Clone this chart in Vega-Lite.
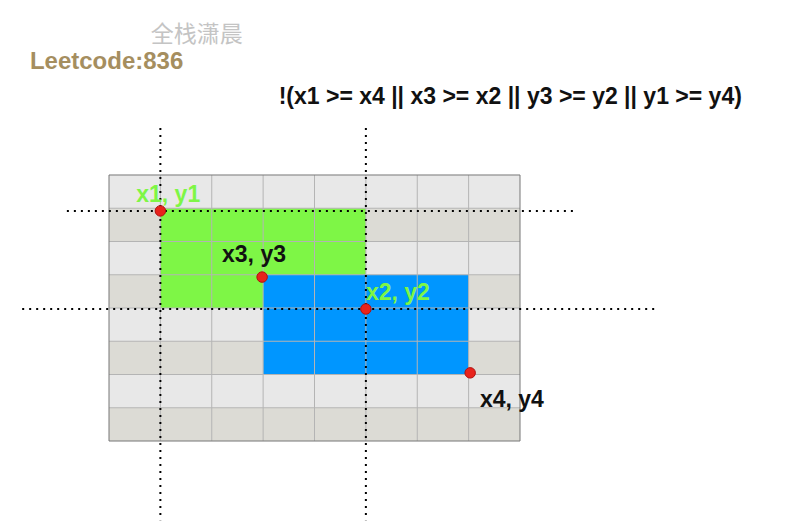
{
  "$schema": "https://vega.github.io/schema/vega-lite/v6.json",
  "width": 787,
  "height": 523,
  "autosize": {"type": "fit", "contains": "padding"},
  "padding": 0,
  "background": "white",
  "config": {"view": {"stroke": null}},
  "datasets": {
    "rows": [
      {"x": 0, "x2": 8, "y": 0, "y2": 1, "shade": "light"},
      {"x": 0, "x2": 8, "y": 1, "y2": 2, "shade": "dark"},
      {"x": 0, "x2": 8, "y": 2, "y2": 3, "shade": "light"},
      {"x": 0, "x2": 8, "y": 3, "y2": 4, "shade": "dark"},
      {"x": 0, "x2": 8, "y": 4, "y2": 5, "shade": "light"},
      {"x": 0, "x2": 8, "y": 5, "y2": 6, "shade": "dark"},
      {"x": 0, "x2": 8, "y": 6, "y2": 7, "shade": "light"},
      {"x": 0, "x2": 8, "y": 7, "y2": 8, "shade": "dark"}
    ],
    "grid": [
      {"x": 0, "x2": 8, "y": 1, "y2": 1}, {"x": 0, "x2": 8, "y": 2, "y2": 2},
      {"x": 0, "x2": 8, "y": 3, "y2": 3}, {"x": 0, "x2": 8, "y": 4, "y2": 4},
      {"x": 0, "x2": 8, "y": 5, "y2": 5}, {"x": 0, "x2": 8, "y": 6, "y2": 6},
      {"x": 0, "x2": 8, "y": 7, "y2": 7},
      {"x": 1, "x2": 1, "y": 0, "y2": 8}, {"x": 2, "x2": 2, "y": 0, "y2": 8},
      {"x": 3, "x2": 3, "y": 0, "y2": 8}, {"x": 4, "x2": 4, "y": 0, "y2": 8},
      {"x": 5, "x2": 5, "y": 0, "y2": 8}, {"x": 6, "x2": 6, "y": 0, "y2": 8},
      {"x": 7, "x2": 7, "y": 0, "y2": 8}
    ],
    "dotted": [
      {"x": 1, "x2": 1, "y": -1.41, "y2": 10.38},
      {"x": 5, "x2": 5, "y": -1.41, "y2": 10.38},
      {"x": -0.82, "x2": 9.07, "y": 1.08, "y2": 1.08},
      {"x": -1.69, "x2": 10.63, "y": 4.03, "y2": 4.03}
    ],
    "points": [
      {"x": 1, "y": 1.08},
      {"x": 2.98, "y": 3.07},
      {"x": 5, "y": 4.03},
      {"x": 7.03, "y": 5.95}
    ],
    "labels": [
      {"x": 0.53, "y": 0.6, "label": "x1, y1", "kind": "green"},
      {"x": 2.2, "y": 2.4, "label": "x3, y3", "kind": "black"},
      {"x": 5.0, "y": 3.55, "label": "x2, y2", "kind": "green"},
      {"x": 7.22, "y": 6.77, "label": "x4, y4", "kind": "black"}
    ]
  },
  "encoding": {
    "x": {"field": "x", "type": "quantitative", "axis": null,
      "scale": {"domain": [-2.1217, 13.197], "nice": false, "zero": false}},
    "y": {"field": "y", "type": "quantitative", "axis": null,
      "scale": {"domain": [-5.263, 10.466], "nice": false, "zero": false, "reverse": true}}
  },
  "layer": [
    {
      "data": {"name": "rows"},
      "transform": [{"filter": "datum.shade == 'light'"}],
      "mark": {"type": "rect", "color": "#e8e8e8"},
      "encoding": {"x2": {"field": "x2"}, "y2": {"field": "y2"}}
    },
    {
      "data": {"name": "rows"},
      "transform": [{"filter": "datum.shade == 'dark'"}],
      "mark": {"type": "rect", "color": "#dcdbd5"},
      "encoding": {"x2": {"field": "x2"}, "y2": {"field": "y2"}}
    },
    {
      "data": {"values": [{"x": 1, "x2": 5, "y": 1, "y2": 4}]},
      "mark": {"type": "rect", "color": "#7ef646"},
      "encoding": {"x2": {"field": "x2"}, "y2": {"field": "y2"}}
    },
    {
      "data": {"values": [{"x": 3, "x2": 7, "y": 3, "y2": 6}]},
      "mark": {"type": "rect", "color": "#0096ff"},
      "encoding": {"x2": {"field": "x2"}, "y2": {"field": "y2"}}
    },
    {
      "data": {"name": "grid"},
      "mark": {"type": "rule", "color": "#b4b4b4", "strokeWidth": 1},
      "encoding": {"x2": {"field": "x2"}, "y2": {"field": "y2"}}
    },
    {
      "data": {"values": [{"x": 0, "x2": 8, "y": 0, "y2": 8}]},
      "mark": {"type": "rect", "fill": null, "stroke": "#777777", "strokeWidth": 1},
      "encoding": {"x2": {"field": "x2"}, "y2": {"field": "y2"}}
    },
    {
      "data": {"name": "dotted"},
      "mark": {"type": "rule", "color": "black", "strokeWidth": 2, "strokeDash": [2, 5]},
      "encoding": {"x2": {"field": "x2"}, "y2": {"field": "y2"}}
    },
    {
      "data": {"name": "points"},
      "mark": {"type": "point", "filled": true, "shape": "circle", "size": 110, "fill": "#e8231c", "stroke": "#b01010", "strokeWidth": 1, "opacity": 1},
      "encoding": {}
    },
    {
      "data": {"name": "labels"},
      "transform": [{"filter": "datum.kind == 'green'"}],
      "mark": {"type": "text", "align": "left", "baseline": "middle", "fontSize": 23, "fontWeight": "bold", "font": "Liberation Sans", "color": "#7ef646"},
      "encoding": {"text": {"field": "label"}}
    },
    {
      "data": {"name": "labels"},
      "transform": [{"filter": "datum.kind == 'black'"}],
      "mark": {"type": "text", "align": "left", "baseline": "middle", "fontSize": 23, "fontWeight": "bold", "font": "Liberation Sans", "color": "#111111"},
      "encoding": {"text": {"field": "label"}}
    },
    {
      "data": {"values": [{"x": 1.71, "y": -4.21, "label": "全栈潇晨"}]},
      "mark": {"type": "text", "align": "center", "baseline": "middle", "fontSize": 23, "color": "#c4c4c4", "font": "Noto Sans CJK SC"},
      "encoding": {"text": {"field": "label"}}
    },
    {
      "data": {"values": [{"x": -1.54, "y": -3.4, "label": "Leetcode:836"}]},
      "mark": {"type": "text", "align": "left", "baseline": "middle", "fontSize": 24, "fontWeight": "bold", "color": "#a58e5f", "font": "Liberation Sans"},
      "encoding": {"text": {"field": "label"}}
    },
    {
      "data": {"values": [{"x": 7.81, "y": -2.35, "label": "!(x1 >= x4 || x3 >= x2 || y3 >= y2 || y1 >= y4)"}]},
      "mark": {"type": "text", "align": "center", "baseline": "middle", "fontSize": 23, "fontWeight": "bold", "color": "#111111", "font": "Liberation Sans"},
      "encoding": {"text": {"field": "label"}}
    }
  ]
}
